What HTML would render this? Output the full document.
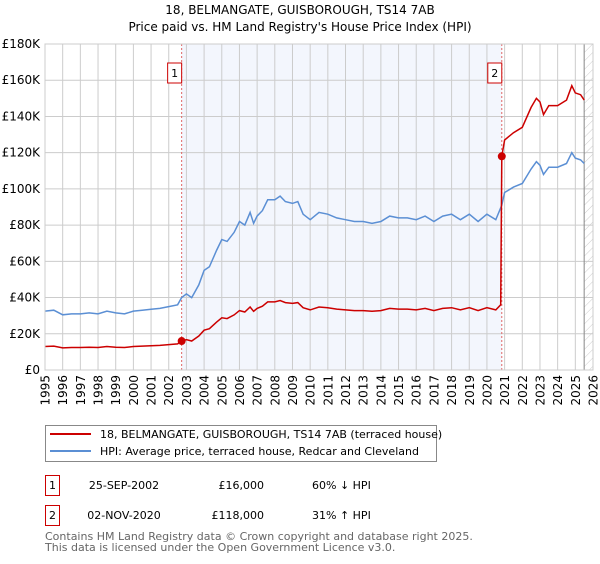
<!DOCTYPE html>
<html><head><meta charset="utf-8"><style>
body{margin:0;background:#fff;width:600px;height:560px;overflow:hidden;font-family:"DejaVu Sans","Liberation Sans",sans-serif;}
svg text{font-family:"DejaVu Sans","Liberation Sans",sans-serif;}
</style></head><body>
<svg id="c" width="600" height="560"></svg>
<script>
const hpiYears=[1995,1995.5,1996,1996.5,1997,1997.5,1998,1998.5,1999,1999.5,2000,2000.5,2001,2001.5,2002,2002.5,2002.73,2003,2003.3,2003.7,2004,2004.3,2004.7,2005,2005.3,2005.7,2006,2006.3,2006.6,2006.8,2007,2007.3,2007.6,2008,2008.3,2008.6,2009,2009.3,2009.6,2010,2010.5,2011,2011.5,2012,2012.5,2013,2013.5,2014,2014.5,2015,2015.5,2016,2016.5,2017,2017.5,2018,2018.5,2019,2019.5,2020,2020.5,2020.84,2021,2021.5,2022,2022.5,2022.8,2023,2023.2,2023.5,2024,2024.5,2024.8,2025,2025.3,2025.5];
const hpiValues=[32.5,33,30.5,31,31,31.5,31,32.5,31.5,31,32.5,33,33.5,34,35,36,40,42,40,47,55,57,66,72,71,76,82,80,87,81,85,88,94,94,96,93,92,93,86,83,87,86,84,83,82,82,81,82,85,84,84,83,85,82,85,86,83,86,82,86,83,91,98,101,103,111,115,113,108,112,112,114,120,117,116,114];
const priceYears=[1995,1995.5,1996,1996.5,1997,1997.5,1998,1998.5,1999,1999.5,2000,2000.5,2001,2001.5,2002,2002.5,2002.73,2003,2003.3,2003.7,2004,2004.3,2004.7,2005,2005.3,2005.7,2006,2006.3,2006.6,2006.8,2007,2007.3,2007.6,2008,2008.3,2008.6,2009,2009.3,2009.6,2010,2010.5,2011,2011.5,2012,2012.5,2013,2013.5,2014,2014.5,2015,2015.5,2016,2016.5,2017,2017.5,2018,2018.5,2019,2019.5,2020,2020.5,2020.78,2020.84,2021,2021.5,2022,2022.5,2022.8,2023,2023.2,2023.5,2024,2024.5,2024.8,2025,2025.3,2025.5];
const priceValues=[13,13.2,12.2,12.4,12.4,12.6,12.4,13,12.6,12.4,13,13.2,13.4,13.6,14,14.4,16,16.8,16,18.8,22,22.8,26.4,28.8,28.4,30.4,32.8,32,34.8,32.4,34,35.2,37.6,37.6,38.4,37.2,36.8,37.2,34.4,33.2,34.8,34.4,33.6,33.2,32.8,32.8,32.4,32.8,34,33.6,33.6,33.2,34,32.8,34,34.4,33.2,34.4,32.8,34.4,33.2,36,118,127,131,134,145,150,148,141,146,146,149,157,153,152,149];
const saleYears=[2002.73,2020.84];
const saleValues=[16,118];
const saleLabels=["1","2"];
const yTicks=[0,20,40,60,80,100,120,140,160,180];
const yTickLabels=["£0","£20K","£40K","£60K","£80K","£100K","£120K","£140K","£160K","£180K"];
const xTicks=[1995,1996,1997,1998,1999,2000,2001,2002,2003,2004,2005,2006,2007,2008,2009,2010,2011,2012,2013,2014,2015,2016,2017,2018,2019,2020,2021,2022,2023,2024,2025,2026];

const NS="http://www.w3.org/2000/svg";
const svg=document.getElementById('c');
const L=45,R=593,T=44,B=370,X0=1995,X1=2026,YMAX=180;
function xs(v){return L+(v-X0)/(X1-X0)*(R-L);}
function ys(v){return B-v/YMAX*(B-T);}
function mk(tag,attrs,parent){const e=document.createElementNS(NS,tag);for(const k in attrs)e.setAttribute(k,attrs[k]);(parent||svg).appendChild(e);return e;}

let t=mk('text',{x:300,y:14,'text-anchor':'middle','font-size':12,fill:'#000'});t.textContent="18, BELMANGATE, GUISBOROUGH, TS14 7AB";


t=mk('text',{x:300,y:31,'text-anchor':'middle','font-size':12,fill:'#000'});t.textContent="Price paid vs. HM Land Registry's House Price Index (HPI)";



let sh=mk('rect',{x:xs(saleYears[0]),y:T,width:xs(saleYears[1])-xs(saleYears[0]),height:B-T,fill:'#f3f6fd'});


const defs=mk('defs',{});
const pat=mk('pattern',{id:'h',width:6,height:6,patternUnits:'userSpaceOnUse',patternTransform:'rotate(45)'},defs);
mk('line',{x1:0,y1:0,x2:0,y2:6,stroke:'#ccc','stroke-width':1},pat);
let hz=mk('rect',{x:xs(2025.5),y:T,width:R-xs(2025.5),height:B-T,fill:'url(#h)'});



xTicks.forEach(v=>{const g=mk('line',{x1:xs(v),x2:xs(v),y1:T,y2:B,stroke:'#cccccc','stroke-width':1});


const tx=mk('text',{x:0,y:0,'text-anchor':'end','font-size':12,fill:'#000',transform:'translate('+(xs(v)+4.5)+','+(B+5)+') rotate(-90)'});tx.textContent=v;

});
yTicks.forEach((v,i)=>{const g=mk('line',{x1:L,x2:R,y1:ys(v),y2:ys(v),stroke:'#cccccc','stroke-width':1});


const tx=mk('text',{x:L-5,y:ys(v)+4,'text-anchor':'end','font-size':12,fill:'#000'});tx.textContent=yTickLabels[i];

});
let vl=mk('line',{x1:xs(2025.5),x2:xs(2025.5),y1:T,y2:B,stroke:'#888','stroke-width':1});



saleYears.forEach((v,i)=>{const l=mk('line',{x1:xs(v),x2:xs(v),y1:T,y2:B,stroke:'#e06666','stroke-width':1,'stroke-dasharray':'2,2'});


const r=mk('rect',{x:xs(v)-14,y:63,width:14,height:20,fill:'#fff',stroke:'#cc0000'});


const tx=mk('text',{x:xs(v)-7,y:77,'text-anchor':'middle','font-size':11,fill:'#000'});tx.textContent=saleLabels[i];

});

function path(xa,va){return xa.map((x,i)=>(i?'L':'M')+xs(x).toFixed(1)+','+ys(va[i]).toFixed(1)).join('');}
let hp=mk('path',{d:path(hpiYears,hpiValues),fill:'none',stroke:'#5b8fd4','stroke-width':1.5});


let pp=mk('path',{d:path(priceYears,priceValues),fill:'none',stroke:'#cc0000','stroke-width':1.5});


saleYears.forEach((v,i)=>{const c=mk('circle',{cx:xs(v),cy:ys(saleValues[i]),r:4,fill:'#cc0000'});

});
let fr=mk('rect',{x:L,y:T,width:R-L,height:B-T,fill:'none',stroke:'#cccccc'});



const lg=mk('g',{});


mk('rect',{x:45.5,y:425.5,width:391,height:36,fill:'#fff',stroke:'#888'},lg);
mk('line',{x1:50,x2:91,y1:434,y2:434,stroke:'#cc0000','stroke-width':2},lg);
mk('line',{x1:50,x2:91,y1:451,y2:451,stroke:'#5b8fd4','stroke-width':2},lg);
t=mk('text',{x:100,y:438,'font-size':11,fill:'#000'},lg);t.textContent="18, BELMANGATE, GUISBOROUGH, TS14 7AB (terraced house)";


t=mk('text',{x:100,y:455,'font-size':11,fill:'#000'},lg);t.textContent="HPI: Average price, terraced house, Redcar and Cleveland";



const rows=[["1","25-SEP-2002","£16,000","60% ↓ HPI",475],["2","02-NOV-2020","£118,000","31% ↑ HPI",505]];
rows.forEach(r=>{const y=r[4];
const b=mk('rect',{x:45.5,y:y+0.5,width:14,height:20,fill:'#fff',stroke:'#cc0000'});


let a=mk('text',{x:52.5,y:y+14,'text-anchor':'middle','font-size':11,fill:'#000'});a.textContent=r[0];


a=mk('text',{x:124,y:y+14,'text-anchor':'middle','font-size':11,fill:'#000'});a.textContent=r[1];


a=mk('text',{x:264,y:y+14,'text-anchor':'end','font-size':11,fill:'#000'});a.textContent=r[2];


a=mk('text',{x:312,y:y+14,'font-size':11,fill:'#000'});a.textContent=r[3];

});
t=mk('text',{x:45,y:540,'font-size':11,fill:'#666'});t.textContent="Contains HM Land Registry data © Crown copyright and database right 2025.";


t=mk('text',{x:45,y:551,'font-size':11,fill:'#666'});t.textContent="This data is licensed under the Open Government Licence v3.0.";


</script>
</body></html>
